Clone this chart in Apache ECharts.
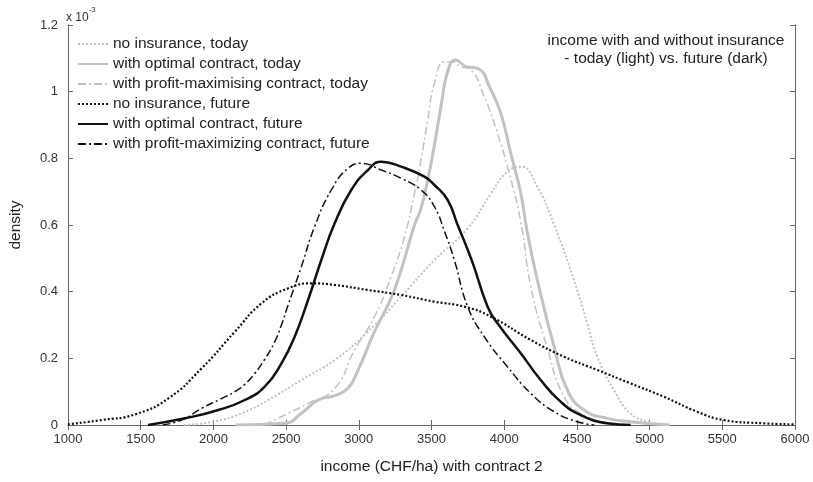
<!DOCTYPE html>
<html><head><meta charset="utf-8">
<script src="https://cdn.jsdelivr.net/npm/echarts@6/dist/echarts.min.js"></script>
<style>html,body{margin:0;padding:0;background:#fff}#c{width:813px;height:482px}</style>
</head><body><div id="c"></div>
<script>
// tick labels
const xTicks = [1000,1500,2000,2500,3000,3500,4000,4500,5000,5500,6000];
const yTicks = [0,0.2,0.4,0.6,0.8,1,1.2];
const seriesNames = [
  'no insurance, today',
  'with optimal contract, today',
  'with profit-maximising contract, today',
  'no insurance, future',
  'with optimal contract, future',
  'with profit-maximizing contract, future'
];
// density (x 10^-3) vs income (CHF/ha)
const noInsToday = [[1800,0],[2000,0.01],[2194,0.035],[2377,0.075],[2605,0.135],[2834,0.195],[3063,0.28],[3291,0.385],[3520,0.495],[3749,0.59],[3909,0.695],[4022,0.76],[4114,0.775],[4228,0.715],[4343,0.6],[4480,0.435],[4571,0.305],[4640,0.205],[4754,0.105],[4868,0.035],[4983,0.01],[5100,0]];
const optToday = [[2150,0],[2491,0.005],[2605,0.035],[2720,0.075],[2834,0.088],[2925,0.11],[2990,0.16],[3108,0.28],[3245,0.405],[3383,0.6],[3428,0.65],[3474,0.735],[3520,0.84],[3565,0.955],[3611,1.06],[3665,1.095],[3740,1.075],[3817,1.07],[3909,1.005],[3977,0.935],[4045,0.815],[4114,0.695],[4160,0.575],[4228,0.435],[4343,0.235],[4434,0.105],[4549,0.045],[4709,0.02],[4868,0.01],[5140,0]];
const profToday = [[2350,0],[2514,0.035],[2651,0.065],[2834,0.11],[2971,0.225],[3108,0.325],[3222,0.445],[3314,0.565],[3383,0.695],[3428,0.795],[3474,0.915],[3520,1.025],[3590,1.09],[3640,1.09],[3700,1.075],[3771,1.065],[3863,0.985],[3954,0.875],[4022,0.775],[4114,0.61],[4183,0.415],[4297,0.23],[4411,0.085],[4526,0.035],[4750,0]];
const noInsFuture = [[1000,0.002],[1233,0.015],[1462,0.032],[1691,0.08],[1919,0.17],[2148,0.28],[2331,0.365],[2514,0.41],[2674,0.425],[2834,0.42],[3063,0.405],[3291,0.39],[3520,0.37],[3726,0.355],[3909,0.325],[4183,0.255],[4411,0.205],[4640,0.165],[4868,0.125],[5097,0.085],[5326,0.04],[5508,0.015],[5783,0.005],[6000,0.002]];
const optFuture = [[1550,0],[1805,0.02],[2034,0.045],[2216,0.075],[2353,0.115],[2468,0.185],[2559,0.265],[2651,0.375],[2742,0.495],[2834,0.605],[2948,0.705],[3063,0.765],[3154,0.79],[3291,0.775],[3451,0.745],[3520,0.72],[3611,0.675],[3680,0.6],[3780,0.49],[3886,0.355],[3954,0.305],[4114,0.215],[4251,0.135],[4388,0.07],[4526,0.03],[4709,0.005],[4870,0]];
const profFuture = [[1650,0],[1782,0.015],[1919,0.05],[2050,0.078],[2148,0.1],[2216,0.122],[2285,0.155],[2350,0.195],[2422,0.25],[2468,0.3],[2514,0.36],[2605,0.475],[2696,0.595],[2811,0.705],[2925,0.77],[3017,0.785],[3154,0.765],[3291,0.74],[3428,0.705],[3520,0.655],[3590,0.58],[3657,0.495],[3749,0.355],[3863,0.265],[4022,0.175],[4183,0.095],[4343,0.04],[4503,0.01],[4620,0]];

const LIGHT = '#c2c2c2', DARK = '#111111';
const FONT = 'Liberation Sans';
const datasets = [noInsToday, optToday, profToday, noInsFuture, optFuture, profFuture];
const styles = [
  {color: LIGHT, width: 2, type: [2,2]},
  {color: LIGHT, width: 3, type: 'solid'},
  {color: LIGHT, width: 1.5, type: [8,3,2,3]},
  {color: DARK, width: 2.2, type: [2,2]},
  {color: DARK, width: 2.5, type: 'solid'},
  {color: DARK, width: 1.5, type: [8,3,2,3]}
];
const chart = echarts.init(document.getElementById('c'));
const axisLine = {show: true, lineStyle: {color: '#666', width: 1}};
const tick = {show: true, inside: true, length: 5, lineStyle: {color: '#666'}};
chart.setOption({
  backgroundColor: '#fff',
  animation: false,
  textStyle: {fontFamily: FONT},
  grid: {left: 66, right: 18, top: 25, bottom: 57, show: false},
  legend: {
    orient: 'vertical', left: 72, top: 30, itemWidth: 30, itemHeight: 18, itemGap: 2,
    textStyle: {fontFamily: FONT, fontSize: 15.5, color: '#222', lineHeight: 18},
    itemStyle: {opacity: 0},
    data: seriesNames,
    selectedMode: false
  },
  xAxis: [{
    type: 'value', min: xTicks[0], max: xTicks[xTicks.length-1], interval: 500,
    axisLine: axisLine, axisTick: tick,
    axisLabel: {color: '#333', fontSize: 13, fontFamily: FONT, margin: 8, formatter: v => String(v)},
    splitLine: {show: false},
    name: 'income (CHF/ha) with contract 2', nameLocation: 'middle', nameGap: 34,
    nameTextStyle: {color: '#222', fontSize: 15.5, fontFamily: FONT}
  }, {
    type: 'value', position: 'top', min: xTicks[0], max: xTicks[xTicks.length-1], interval: 500,
    axisLine: axisLine, axisTick: tick,
    axisLabel: {show: false}, splitLine: {show: false}
  }],
  yAxis: [{
    type: 'value', min: 0, max: 1.2, interval: 0.2,
    axisLine: axisLine, axisTick: tick,
    axisLabel: {color: '#333', fontSize: 13, fontFamily: FONT, margin: 10},
    splitLine: {show: false},
    name: 'density', nameLocation: 'middle', nameGap: 44, nameRotate: 90,
    nameTextStyle: {color: '#222', fontSize: 15.5, fontFamily: FONT}
  }, {
    type: 'value', position: 'right', min: 0, max: 1.2, interval: 0.2,
    axisLine: axisLine, axisTick: tick,
    axisLabel: {show: false}, splitLine: {show: false}
  }],
  graphic: [{
    type: 'text', left: 66, top: 6,
    style: {
      text: '{a|x 10}{b|-3}', fontFamily: FONT,
      rich: {a: {fontSize: 12, fill: '#333', fontFamily: FONT, padding: [6,0,0,0]}, b: {fontSize: 8, fill: '#333', fontFamily: FONT, verticalAlign: 'top'}}
    }
  }, {
    type: 'text', x: 666, y: 32,
    style: {
      text: 'income with and without insurance\n- today (light) vs. future (dark)',
      align: 'center', verticalAlign: 'top', fontSize: 15.5, lineHeight: 18, fill: '#222', fontFamily: FONT
    }
  }],
  series: datasets.map((d, i) => ({
    name: seriesNames[i], type: 'line', data: d, smooth: 0.5, symbol: 'none',
    xAxisIndex: 0, yAxisIndex: 0,
    lineStyle: styles[i], itemStyle: {color: styles[i].color},
    z: i < 3 ? 2 : 3
  }))
});
</script></body></html>
